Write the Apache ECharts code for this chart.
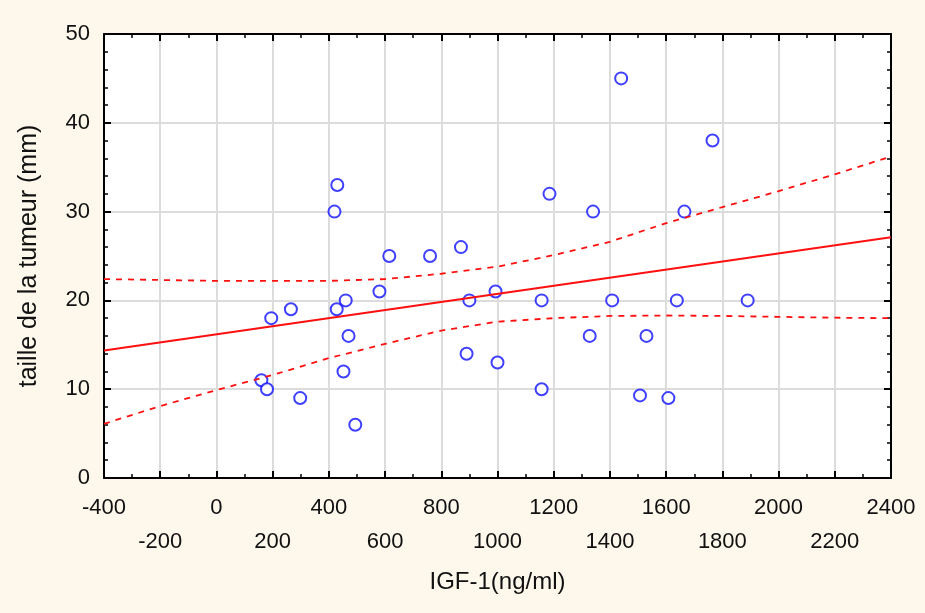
<!DOCTYPE html>
<html>
<head>
<meta charset="utf-8">
<title>Taille de la tumeur vs IGF-1</title>
<script src="https://cdn.jsdelivr.net/npm/echarts@6/dist/echarts.min.js"></script>
<style>
  html, body { margin: 0; padding: 0; background: #fef8ec; }
  #chart { width: 925px; height: 613px; }
</style>
</head>
<body>
<div id="chart"></div>
<script>
// Observations: IGF-1 (ng/ml) and tumour size (mm)
const igf = [430, 420, 615, 760, 870, 1440, 1765, 1185, 1340, 1665,
             195, 265, 428, 460, 580, 900, 993, 470, 452, 160,
             180, 298, 494, 890, 1000, 1157, 1408, 1638, 1890, 1328,
             1530, 1157, 1507, 1608];
const taille = [33, 30, 25, 25, 26, 45, 38, 32, 30, 30,
                18, 19, 19, 20, 21, 20, 21, 16, 12, 11,
                10, 9, 6, 14, 13, 20, 20, 20, 20, 16,
                16, 10, 9.3, 9];

// Fitted regression line (end points)
const fitX = [-400, 2400];
const fitY = [14.35, 27.1];

// 95% confidence band
const bandX = [-400, -200, 0, 200, 400, 600, 800, 1000, 1200, 1400, 1600, 1800, 2000, 2200, 2400];
const bandUpper = [22.4, 22.3, 22.2, 22.2, 22.2, 22.4, 23.0, 23.8, 25.1, 26.6, 28.7, 30.5, 32.3, 34.2, 36.2];
const bandLower = [6.1, 8.1, 9.9, 11.6, 13.5, 15.1, 16.6, 17.6, 18.0, 18.25, 18.3, 18.25, 18.15, 18.05, 18.0];

const zip = (xs, ys) => xs.map((x, i) => [x, ys[i]]);

const FONT = "'Liberation Sans', Arial, sans-serif";

const xCommon = {
  type: 'value', min: -400, max: 2400, interval: 200,
  axisLine: { onZero: false, lineStyle: { color: '#000', width: 2 } },
  axisTick: { inside: true, length: 7, lineStyle: { color: '#000', width: 2 } },
  minorTick: { show: true, splitNumber: 2, length: 4, lineStyle: { color: '#000', width: 1.5 } }
};
const yCommon = {
  type: 'value', min: 0, max: 50, interval: 10,
  axisLine: { onZero: false, lineStyle: { color: '#000', width: 2 } },
  axisTick: { inside: true, length: 7, lineStyle: { color: '#000', width: 2 } },
  minorTick: { show: true, splitNumber: 5, length: 4, lineStyle: { color: '#000', width: 1.5 } }
};

const chart = echarts.init(document.getElementById('chart'));
chart.setOption({
  backgroundColor: '#fef8ec',
  animation: false,
  textStyle: { fontFamily: FONT },
  grid: { left: 104, right: 34, top: 34, bottom: 135, show: true, backgroundColor: '#ffffff', borderWidth: 0 },
  xAxis: [
    Object.assign({}, xCommon, {
      position: 'bottom',
      name: 'IGF-1(ng/ml)',
      nameLocation: 'middle',
      nameGap: 92,
      nameTextStyle: { fontSize: 24, color: '#111', fontFamily: FONT },
      splitLine: { show: true, lineStyle: { color: '#dcdcdc', width: 2 } },
      axisLabel: {
        fontSize: 22, color: '#111', fontFamily: FONT, margin: 13, lineHeight: 34,
        showMinLabel: true, showMaxLabel: true,
        formatter: v => (Math.abs(Math.round(v / 200)) % 2 === 0 ? String(v) : '\n' + v)
      }
    }),
    Object.assign({}, xCommon, {
      position: 'top',
      splitLine: { show: false },
      axisLabel: { show: false }
    })
  ],
  yAxis: [
    Object.assign({}, yCommon, {
      position: 'left',
      name: 'taille de la tumeur (mm)',
      nameLocation: 'middle',
      nameGap: 62,
      nameRotate: 90,
      nameTextStyle: { fontSize: 25, color: '#111', fontFamily: FONT },
      splitLine: { show: true, lineStyle: { color: '#dcdcdc', width: 2 } },
      axisLabel: { fontSize: 22, color: '#111', fontFamily: FONT, margin: 14 }
    }),
    Object.assign({}, yCommon, {
      position: 'right',
      splitLine: { show: false },
      axisLabel: { show: false }
    })
  ],
  series: [
    {
      type: 'line', data: zip(bandX, bandUpper), symbol: 'none', silent: true,
      lineStyle: { color: '#ff1010', width: 1.8, type: [6, 6] }
    },
    {
      type: 'line', data: zip(bandX, bandLower), symbol: 'none', silent: true,
      lineStyle: { color: '#ff1010', width: 1.8, type: [6, 6] }
    },
    {
      type: 'line', data: zip(fitX, fitY), symbol: 'none', silent: true,
      lineStyle: { color: '#ff1010', width: 2 }
    },
    {
      type: 'scatter', data: zip(igf, taille), symbol: 'emptyCircle', symbolSize: 12,
      itemStyle: { color: '#1010ff', borderWidth: 2.2 }
    }
  ]
});
</script>
</body>
</html>
